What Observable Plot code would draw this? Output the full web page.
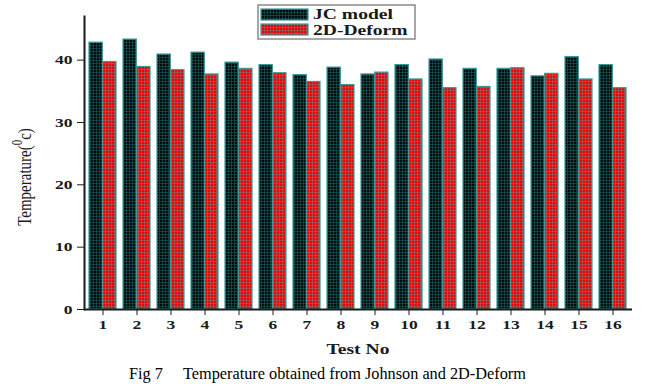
<!DOCTYPE html>
<html><head><meta charset="utf-8">
<script src="https://cdn.jsdelivr.net/npm/d3@7"></script>
<script src="https://cdn.jsdelivr.net/npm/@observablehq/plot@0.6"></script>
<style>
body{margin:0;background:#fff;}
#wrap{position:relative;width:648px;height:390px;}
.cap{font-family:"Liberation Serif","Times New Roman",serif;font-size:16.3px;white-space:pre;position:absolute;left:129px;top:364px;color:#000;}
</style></head><body>
<div id="wrap"><div id="chart"></div><div class="cap">Fig 7     Temperature obtained from Johnson and 2D-Deform</div></div>
<script>
const tests = [1,2,3,4,5,6,7,8,9,10,11,12,13,14,15,16];
const jcModel = [42.8,43.3,40.9,41.2,39.6,39.2,37.6,38.8,37.7,39.2,40.1,38.6,38.6,37.4,40.5,39.2];
const deform2D = [39.7,38.9,38.4,37.7,38.6,37.9,36.5,36.0,38.0,36.9,35.5,35.7,38.7,37.8,36.9,35.5];
const seriesNames = ["JC model","2D-Deform"];
const yTicks = [0,10,20,30,40];
const xLabel = "Test No";

const W=648,H=362,mL=84,mR=16,mT=16,mB=53;
const pIn=0.2,pOut=0.1;
const step=(W-mL-mR)/(tests.length-pIn+2*pOut);
const half=step*(1-pIn)/2;
const serif='"Liberation Serif","Times New Roman",serif';
const barStroke="#3a9898";

const plot = Plot.plot({
  width:W,height:H,marginLeft:mL,marginRight:mR,marginTop:mT,marginBottom:mB,
  style:{fontFamily:serif,fontWeight:"bold",fontSize:"13px",background:"white",color:"#1a1a1a"},
  x:{domain:tests,paddingInner:pIn,paddingOuter:pOut,label:null},
  y:{domain:[0,47],label:null},
  marks:[
    Plot.barY(tests,{x:d=>d,y:(d,i)=>jcModel[i],insetRight:half,fill:"url(#patJC)",stroke:barStroke,strokeWidth:1.2}),
    Plot.barY(tests,{x:d=>d,y:(d,i)=>deform2D[i],insetLeft:half,fill:"url(#patDF)",stroke:barStroke,strokeWidth:1.2}),
    Plot.axisX({tickSize:6,tickPadding:4,label:null}),
    Plot.axisY({ticks:yTicks,tickSize:7,tickPadding:5,label:null}),
    Plot.ruleY([0],{stroke:"#1a1a1a",strokeWidth:2}),
    Plot.frame({anchor:"left",stroke:"#1a1a1a",strokeWidth:2})
  ]
});
document.getElementById("chart").appendChild(plot);
const svg=d3.select(plot);
const defs=svg.insert("defs",":first-child");
function pat(id,bg,line){
  const p=defs.append("pattern").attr("id",id).attr("patternUnits","userSpaceOnUse").attr("width",3).attr("height",3);
  p.append("rect").attr("width",3).attr("height",3).attr("fill",bg);
  p.append("path").attr("d","M0,0.5H3M0.5,0V3").attr("stroke",line).attr("stroke-width",0.8).attr("fill","none");
}
pat("patJC","#000a0a","#0f4e4e");
pat("patDF","#f00000","#9a5a5a");
// stretch axis tick labels horizontally
svg.selectAll("g[aria-label='x-axis tick label'] text, g[aria-label='y-axis tick label'] text").each(function(){
  const t=d3.select(this).attr("transform")||"";
  d3.select(this).attr("transform",t+" scale(1.35,1)");
});
// x label
svg.append("text").attr("transform",`translate(${mL+(W-mL-mR)/2},${H-8}) scale(1.4,1)`)
  .attr("text-anchor","middle").attr("font-size",14).attr("font-weight","bold").attr("fill","#1a1a1a").text(xLabel);
// y label
const yl=svg.append("text").attr("transform","translate(31,177) rotate(-90) scale(1,1.3)")
  .attr("text-anchor","middle").attr("font-size",15).attr("font-weight","normal").attr("fill","#1a1a1a");
yl.append("tspan").text("Temperature(");
yl.append("tspan").attr("dy",-7).attr("font-size",11).text("0");
yl.append("tspan").attr("dy",7).text("c)");
// legend
const lg=svg.append("g");
lg.append("rect").attr("x",258).attr("y",5).attr("width",157).attr("height",34).attr("fill","white").attr("stroke","#8a8a8a").attr("stroke-width",1.5);
const pats=["url(#patJC)","url(#patDF)"];
seriesNames.forEach((s,i)=>{
  lg.append("rect").attr("x",261).attr("y",9+i*15).attr("width",47).attr("height",11).attr("fill",pats[i]).attr("stroke",barStroke).attr("stroke-width",1.2);
  lg.append("text").attr("transform",`translate(313,${19+i*15.5}) scale(1.4,1)`).attr("text-anchor","start").attr("font-size",14).attr("font-weight","bold").attr("fill","#1a1a1a").text(s);
});
</script></body></html>
